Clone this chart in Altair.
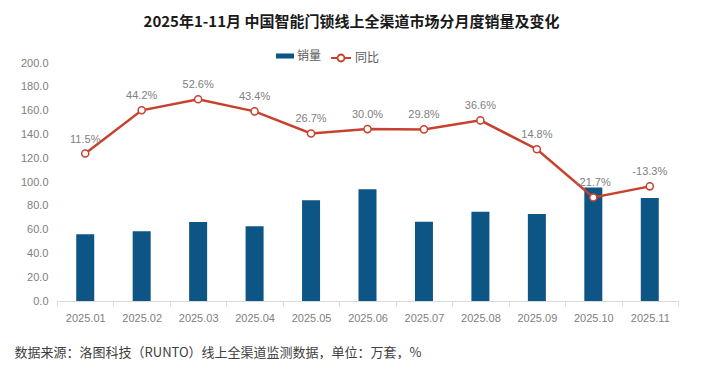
import altair as alt
import pandas as pd

months = ["2025.01", "2025.02", "2025.03", "2025.04", "2025.05", "2025.06",
          "2025.07", "2025.08", "2025.09", "2025.10", "2025.11"]
sales = [56.0, 58.6, 66.4, 62.8, 84.6, 93.9, 66.7, 75.1, 73.1, 95.3, 86.6]
yoy = [11.5, 44.2, 52.6, 43.4, 26.7, 30.0, 29.8, 36.6, 14.8, -21.7, -13.3]
yoy_labels = [f"{v:.1f}%" for v in yoy]

df = pd.DataFrame({
    "month": months,
    "sales": sales,
    "yoy": yoy,
    "label": yoy_labels,
    "s1": "销量",
    "s2": "同比",
})

BAR = "#0D5585"
RED = "#C8412E"
GRAY = "#808080"
FONT = "Noto Sans CJK SC"
NUMFONT = "Liberation Sans"

x_enc = alt.X(
    "month:N", sort=months,
    scale=alt.Scale(paddingInner=0, paddingOuter=0),
    axis=alt.Axis(
        title="数据来源：洛图科技（RUNTO）线上全渠道监测数据，单位：万套，%",
        titleFont=FONT, titleFontSize=13, titleFontWeight="normal", titleColor="#404040",
        titleAnchor="start", titleAlign="left", titleBaseline="middle",
        titleX=-43, titleY=51,
        labelFont=NUMFONT, labelFontSize=11, labelColor=GRAY, labelPadding=6,
        labelAngle=0,
        domainColor="#d9d9d9", tickColor="#d9d9d9", tickSize=5, tickBand="extent",
        grid=False,
    ),
)

bars = alt.Chart(df).mark_bar(width=18).encode(
    x=x_enc,
    y=alt.Y("sales:Q", scale=alt.Scale(domain=[0, 200]),
            axis=alt.Axis(title=None, values=list(range(0, 201, 20)), format=".1f",
                          labelFont=NUMFONT, labelFontSize=11, labelColor=GRAY,
                          domain=False, ticks=False, grid=False, labelPadding=9)),
    color=alt.Color("s1:N", scale=alt.Scale(domain=["销量"], range=[BAR]),
                    legend=alt.Legend(title=None, orient="none", legendX=219, legendY=-16,
                                      padding=0,
                                      symbolType="M-1,-0.28H1V0.28H-1Z", symbolSize=324,
                                      symbolStrokeWidth=0,
                                      labelFont=FONT, labelFontSize=12, labelColor="#595959",
                                      labelOffset=3)),
)

y_line = alt.Y("yoy:Q", scale=alt.Scale(domain=[-100, 80]), axis=None)

line = alt.Chart(df).mark_line(strokeWidth=2.5).encode(
    x=alt.X("month:N", sort=months),
    y=y_line,
    stroke=alt.Stroke("s2:N", scale=alt.Scale(domain=["同比"], range=[RED]),
                      legend=alt.Legend(title=None, orient="none", legendX=273, legendY=-16,
                                        padding=0,
                                        symbolType="M-1,0H-0.35M0.35,0H1M0.35,0A0.35,0.35 0 1,1 -0.35,0A0.35,0.35 0 1,1 0.35,0Z",
                                        symbolSize=400, symbolStrokeWidth=1.8,
                                        symbolFillColor="white",
                                        labelFont=FONT, labelFontSize=12, labelColor="#595959",
                                        labelOffset=3)),
)

points = alt.Chart(df).mark_point(filled=True, fill="white", stroke=RED, strokeWidth=1.5,
                                  size=50, opacity=1).encode(
    x=alt.X("month:N", sort=months),
    y=y_line,
)

texts = alt.Chart(df).mark_text(dy=-14, font=NUMFONT, fontSize=11, color=GRAY).encode(
    x=alt.X("month:N", sort=months),
    y=y_line,
    text="label:N",
)

chart = alt.layer(bars, line, points, texts).resolve_scale(
    y="independent"
).properties(
    width=621, height=238,
    autosize=alt.AutoSizeParams(type="none"),
    padding={"left": 49, "top": 55, "right": 30, "bottom": 58},
    title=alt.Title("2025年1-11月 中国智能门锁线上全渠道市场分月度销量及变化",
                    font=FONT, fontSize=15, fontWeight="bold", color="#1a1a1a",
                    anchor="middle", dx=-16, offset=17),
).configure_view(stroke=None)

chart.save("out.html", embed_options={"renderer": "svg", "actions": False})
